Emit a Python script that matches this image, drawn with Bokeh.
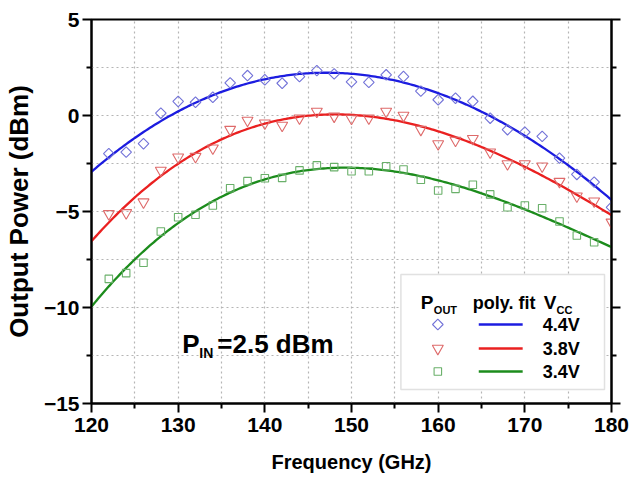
import numpy as np
from bokeh.plotting import figure
from bokeh.models import FixedTicker, LinearAxis, Label, BoxAnnotation, Range1d
from bokeh.embed import file_html
from bokeh.resources import INLINE

# ---------------- data ----------------
freq = list(range(122, 181, 2))  # GHz
pout_44 = [-1.99, -1.91, -1.47, 0.12, 0.73, 0.69, 0.95, 1.70, 2.08, 1.86,
           1.68, 2.03, 2.34, 2.17, 1.75, 1.73, 2.12, 2.03, 1.27, 0.82,
           0.90, 0.74, -0.14, -0.74, -0.87, -1.09, -2.22, -3.07, -3.47, -4.78]
pout_38 = [-5.12, -5.07, -4.51, -2.86, -2.17, -2.14, -1.70, -0.73, -0.26, -0.40,
           -0.52, -0.14, 0.21, -0.04, -0.15, -0.14, 0.21, 0.00, -0.73, -1.48,
           -1.30, -1.21, -1.91, -2.52, -2.52, -2.64, -3.44, -4.20, -4.46, -5.56]
freq_34 = list(range(122, 179, 2))
pout_34 = [-8.51, -8.21, -7.67, -6.04, -5.30, -5.17, -4.69, -3.79, -3.42, -3.27,
           -3.25, -2.86, -2.60, -2.69, -2.90, -2.90, -2.64, -2.81, -3.35, -3.91,
           -3.82, -3.61, -4.11, -4.78, -4.69, -4.83, -5.52, -6.25, -6.60]
vcc_labels = ["4.4V", "3.8V", "3.4V"]

x_major = [120, 130, 140, 150, 160, 170, 180]
x_minor = [125, 135, 145, 155, 165, 175]
y_major = [-15, -10, -5, 0, 5]
y_minor = [-12.5, -7.5, -2.5, 2.5]

FONT = "Liberation Sans"
BLUE, RED, GREEN = "#1c1ce0", "#ea2020", "#1c8c1c"
BLUE_M, RED_M, GREEN_M = "#7272d8", "#de6a6a", "#6ab06a"

# frame geometry (pixels) used only to place decorations
L, R, T, B = 90, 611, 19, 403
W, H = 631, 485


def fx(px):
    return 120 + (px - L) * 60.0 / (R - L)


def fy(py):
    return 5 - (py - T) * 20.0 / (B - T)


p = figure(width=W, height=H, output_backend="svg", toolbar_location=None,
           x_range=Range1d(120, 180), y_range=Range1d(-15, 5),
           min_border_left=L, min_border_right=W - R,
           min_border_top=T, min_border_bottom=H - B)
p.background_fill_color = "white"
p.border_fill_color = "white"
p.outline_line_color = "black"
p.outline_line_width = 2

p.xaxis.ticker = FixedTicker(ticks=x_major, minor_ticks=x_minor)
p.yaxis.ticker = FixedTicker(ticks=y_major, minor_ticks=y_minor)
p.xgrid.ticker = p.xaxis[0].ticker
p.ygrid.ticker = p.yaxis[0].ticker

for g in (p.xgrid[0], p.ygrid[0]):
    g.grid_line_color = "#b5b5b5"
    g.grid_line_dash = "2 3"
    g.grid_line_width = 1.2
    g.minor_grid_line_color = "#b5b5b5"
    g.minor_grid_line_dash = "2 3"
    g.minor_grid_line_width = 1.2


def style_axis(ax):
    ax.axis_line_width = 2
    ax.major_tick_line_width = 2
    ax.minor_tick_line_width = 2
    ax.major_tick_out = 9
    ax.major_tick_in = 0
    ax.minor_tick_out = 5
    ax.minor_tick_in = 0
    ax.major_label_text_font = FONT
    ax.major_label_text_font_style = "bold"
    ax.major_label_text_color = "black"
    ax.major_label_text_font_size = "21px"
    ax.axis_label_text_font = FONT
    ax.axis_label_text_font_style = "bold"
    ax.axis_label_text_color = "black"


style_axis(p.xaxis[0])
style_axis(p.yaxis[0])
p.xaxis.axis_label = "Frequency (GHz)"
p.yaxis.axis_label = "Output Power (dBm)"
p.xaxis.axis_label_text_font_size = "20px"
p.yaxis.axis_label_text_font_size = "26px"
p.xaxis.major_label_standoff = 5
p.yaxis.major_label_standoff = 3
p.xaxis.axis_label_standoff = 16
p.yaxis.axis_label_standoff = 7

ax_r = LinearAxis(ticker=FixedTicker(ticks=y_major, minor_ticks=y_minor))
style_axis(ax_r)
ax_r.major_label_overrides = {t: "" for t in y_major}
ax_r.major_label_standoff = 0
p.add_layout(ax_r, "right")

# ---------------- polynomial fits ----------------
xs = np.linspace(120, 180, 241)
for f, v, c in ((freq, pout_44, BLUE), (freq, pout_38, RED), (freq_34, pout_34, GREEN)):
    coef = np.polyfit(f, v, 3)
    p.line(xs, np.polyval(coef, xs), line_color=c, line_width=2.3)

# ---------------- measured points ----------------
p.scatter(freq, pout_44, marker="square", angle=np.pi / 4, size=7.5,
          fill_color=None, line_color=BLUE_M, line_width=1.1)
p.scatter(freq, pout_38, marker="inverted_triangle", size=11,
          fill_color=None, line_color=RED_M, line_width=1.1)
p.scatter(freq_34, pout_34, marker="square", size=7.5,
          fill_color=None, line_color=GREEN_M, line_width=1.1)

# ---------------- legend (drawn by hand) ----------------
box = BoxAnnotation(left=fx(400), right=fx(604), top=fy(274), bottom=fy(389),
                    fill_color="white", fill_alpha=1.0, line_color="#9a9a9a",
                    line_width=1.5, level="underlay")
p.add_layout(box)

rows_py = [324, 348, 371]
mx = fx(437)
p.scatter([mx], [fy(rows_py[0])], marker="square", angle=np.pi / 4, size=7.5,
          fill_color=None, line_color=BLUE_M, line_width=1.1)
p.scatter([mx], [fy(rows_py[1])], marker="inverted_triangle", size=11,
          fill_color=None, line_color=RED_M, line_width=1.1)
p.scatter([mx], [fy(rows_py[2])], marker="square", size=7.5,
          fill_color=None, line_color=GREEN_M, line_width=1.1)
for py, c in zip(rows_py, (BLUE, RED, GREEN)):
    p.segment(x0=[fx(478)], x1=[fx(522)], y0=[fy(py)], y1=[fy(py)],
              line_color=c, line_width=2.3)
for py, t in zip(rows_py, vcc_labels):
    p.add_layout(Label(x=fx(542), y=fy(py), text=t, text_font=FONT,
                       text_font_style="bold", text_font_size="18px",
                       text_color="black",
                       text_baseline="middle", text_align="left"))


def lab(px, py, t, size):
    p.add_layout(Label(x=fx(px), y=fy(py), text=t, text_font=FONT,
                       text_font_style="bold", text_font_size=size,
                       text_color="black",
                       text_baseline="alphabetic", text_align="left"))


lab(420, 302, "P", "19px")
lab(433, 309, "OUT", "11px")
lab(472, 302, "poly. fit", "18px")
lab(543, 302, "V", "19px")
lab(556, 309, "CC", "11px")

lab(181, 343, "P", "26px")
lab(198, 352, "IN", "14px")
lab(216, 343, "=2.5 dBm", "26px")

open("out.html", "w").write(file_html(p, INLINE))
